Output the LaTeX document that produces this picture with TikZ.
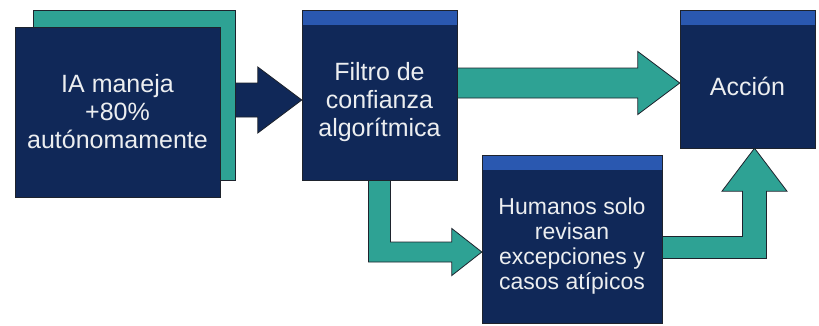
\documentclass[tikz,border=0pt]{standalone}
\usepackage{fontspec}
\setmainfont{Liberation Sans}
\usetikzlibrary{calc}
\definecolor{navy}{RGB}{16,40,88}
\definecolor{bandblue}{RGB}{42,88,176}
\definecolor{flowteal}{RGB}{46,162,148}
\definecolor{txtgray}{RGB}{236,238,240}
\definecolor{edgegray}{RGB}{30,35,45}
\def\blockarrow[#1](#2)(#3)(#4:#5:#6){\draw[#1] ($(#2)+(0,-#4)$) -- ($(#3)+(-#6,-#4)$) -- ($(#3)+(-#6,-#5)$) -- (#3) -- ($(#3)+(-#6,#5)$) -- ($(#3)+(-#6,#4)$) -- ($(#2)+(0,#4)$) -- cycle;}

\begin{document}
\begin{tikzpicture}[x=1pt, y=-1pt,
	box/.style={draw=edgegray, line width=0.8pt, fill=navy, inner sep=0pt},
	banded/.style={path picture={\fill[bandblue] (path picture bounding box.north west) rectangle ([yshift=-15pt]path picture bounding box.north east);}},
	lbl/.style={text=txtgray, align=center, font=\fontsize{25}{28}\selectfont},
	darkarrow/.style={fill=navy, draw=edgegray, line width=0.8pt},
	tealarrow/.style={fill=flowteal, draw=edgegray, line width=0.8pt}]
	%%%%% START %%%%%
	\useasboundingbox[fill=white] (0,0) rectangle (819,325);
	
	% levels of the arrows
	\coordinate (lv1) at (0,100);
	\coordinate (lv2) at (0,83);
	\coordinate (lv3) at (0,252);
	\coordinate (lv4) at (754.5,247.5);
	
	% boxes (placed first, arrows need them)
	\path (134,95) node[minimum width=202pt, minimum height=170pt] (back) {};
	\path (117.5,112) node[minimum width=205pt, minimum height=170pt] (ia) {};
	\path (379.5,95) node[minimum width=155pt, minimum height=170pt] (filter) {};
	\path (747.5,79) node[minimum width=135pt, minimum height=138pt] (accion) {};
	\path (572,239) node[minimum width=180pt, minimum height=168pt] (humanos) {};
	
	% arrows
	\coordinate (d0) at (ia.east |- lv1);
	\coordinate (d1) at (filter.west |- lv1);
	\blockarrow[darkarrow](d0)(d1)(17:33:44)
	
	\coordinate (f0) at (filter.east |- lv2);
	\coordinate (f1) at (accion.west |- lv2);
	\blockarrow[tealarrow](f0)(f1)(15:31.5:42)
	
	\coordinate (h0) at (filter.south);
	\coordinate (h1) at (h0 |- lv3);
	\coordinate (h2) at (humanos.west |- lv3);
	\draw[tealarrow] ($(h0)+(-11,0)$) -- ($(h1)+(-11,10)$) -- ($(h2)+(-30,10)$) -- ($(h2)+(-30,23.5)$) -- (h2) -- ($(h2)+(-30,-23.5)$) -- ($(h2)+(-30,-10)$) -- ($(h1)+(11,-10)$) -- ($(h0)+(11,0)$) -- cycle;
	
	\coordinate (u0) at (humanos.east |- lv4);
	\coordinate (u1) at (lv4);
	\coordinate (u2) at (lv4 |- accion.south);
	\draw[tealarrow] ($(u0)+(0,-11)$) -- ($(u1)+(-12,-11)$) -- ($(u2)+(-12,43)$) -- ($(u2)+(-32.5,43)$) -- (u2) -- ($(u2)+(32.5,43)$) -- ($(u2)+(12,43)$) -- ($(u1)+(12,11)$) -- ($(u0)+(0,11)$) -- cycle;
	
	% box faces
	\node[box, fill=flowteal, minimum width=202pt, minimum height=170pt] at (back) {};
	\node[box, minimum width=205pt, minimum height=170pt] at (ia) {};
	\node[box, banded, minimum width=155pt, minimum height=170pt] at (filter) {};
	\node[box, banded, minimum width=135pt, minimum height=138pt] at (accion) {};
	\node[box, banded, minimum width=180pt, minimum height=168pt] at (humanos) {};
	
	% texts
	\node[lbl] (ia-t) at (ia.center) {IA maneja\\+80\%\\autónomamente};
	\node[lbl] (filter-t) at ([yshift=-7.5pt]filter.center) {Filtro de\\confianza\\algorítmica};
	\node[lbl] (accion-t) at ([yshift=-7.5pt]accion.center) {Acción};
	\node[lbl, font=\fontsize{23}{25}\selectfont] (humanos-t) at ([yshift=-7.5pt]humanos.center) {Humanos solo\\revisan\\excepciones y\\casos atípicos};
	
	%%%%% END %%%%%
\end{tikzpicture}
\end{document}
